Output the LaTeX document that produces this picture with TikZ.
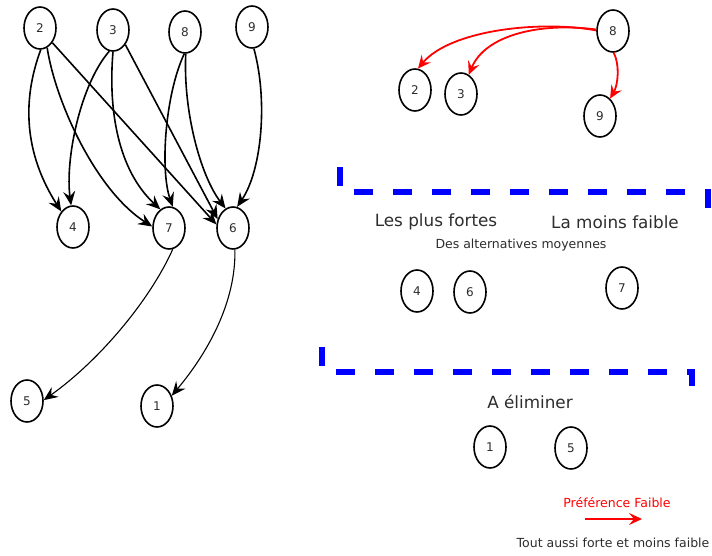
\documentclass[tikz,border=0pt]{standalone}
\usepackage{fontspec}
\setmainfont{DejaVu Sans}
\usetikzlibrary{shapes.geometric,arrows.meta}
\definecolor{txtgray}{RGB}{45,45,45}

\begin{document}
\begin{tikzpicture}[x=1pt,y=-1pt,
  vertex/.style={draw=black,line width=1.6pt,ellipse,minimum width=32pt,minimum height=42pt,inner sep=0pt,text=txtgray,font=\fontsize{12}{14}\selectfont},
  pref/.style={line width=1.6pt,-{Stealth[length=14pt,width=12pt,inset=5pt]}},
  weak/.style={red,line width=1.8pt,-{Stealth[length=13pt,width=12pt,inset=5pt]}},
  bound/.style={blue,line width=6pt,dash pattern=on 19pt off 20pt},
  bigtxt/.style={text=txtgray,font=\fontsize{16.8}{19}\selectfont},
  smalltxt/.style={text=txtgray,font=\fontsize{12.5}{14}\selectfont}]
\useasboundingbox[fill=white] (0,0) rectangle (712,556);
% Drawing nodes
% Left: the graph
\node[vertex] (l2) at (40,28) {2};
\node[vertex] (l3) at (113,30) {3};
\node[vertex] (l8) at (185,32) {8};
\node[vertex] (l9) at (252,27) {9};
\node[vertex] (l4) at (73,227) {4};
\node[vertex] (l7) at (169,228) {7};
\node[vertex] (l6) at (233,228) {6};
\node[vertex] (l5) at (27,401) {5};
\node[vertex] (l1) at (157,406) {1};
% Right: weak preferences
\node[vertex] (r8) at (613,31) {8};
\node[vertex] (r2) at (415,90) {2};
\node[vertex] (r3) at (461,94) {3};
\node[vertex] (r9) at (600,116) {9};
% Right: classes
\node[bigtxt] (fortes) at (436,222) {Les plus fortes};
\node[bigtxt] (faible) at (615,222) {La moins faible};
\node[smalltxt] (moyennes) at (521,245) {Des alternatives moyennes};
\node[vertex] (m4) at (417,291) {4};
\node[vertex] (m6) at (470,292) {6};
\node[vertex] (m7) at (622,288) {7};
\node[bigtxt] (eliminer) at (530,402) {A éliminer};
\node[vertex] (e1) at (490,447) {1};
\node[vertex] (e5) at (571,448) {5};
% Done with nodes; drawing edges
\draw[pref] (l2.-88) .. controls (22,100) and (24,153) .. (l4.127);
\draw[pref] (l2.-70) .. controls (55,100) and (95,190) .. (l7.175);
\draw[pref] (l2.-50) -- (l6.168);
\draw[pref] (l3.-100) .. controls (80,85) and (65,160) .. (l4.95);
\draw[pref] (l3.-90) .. controls (108,110) and (118,170) .. (l7.115);
\draw[pref] (l3.-50) -- (l6.150);
\draw[pref] (l8.-92) .. controls (165,95) and (160,170) .. (l7.80);
\draw[pref] (l8.-88) .. controls (183,110) and (200,175) .. (l6.111);
\draw[pref] (l9.-85) .. controls (268,100) and (262,170) .. (l6.79);
\draw[pref,line width=1.1pt] (l7.-80) .. controls (150,300) and (100,360) .. (l5.3);
\draw[pref,line width=1.1pt] (l6.-85) .. controls (236,300) and (210,350) .. (l1.35);
% Red ones
\draw[weak] (r8.178) .. controls (540,20) and (450,30) .. (r2.82);
\draw[weak] (r8.175) .. controls (540,22) and (485,35) .. (r3.68);
\draw[weak] (r8.-88) .. controls (620,65) and (618,85) .. (r9.60);
% Done with edges; drawing boundaries
\draw[bound] (340,167) -- (340,192) -- (708,192) -- (708,210);
\draw[bound] (322,347) -- (322,372) -- (692,372) -- (692,392);
% Legend
\node[text=red,font=\fontsize{12.5}{14}\selectfont] (legweak) at (617,503) {Préférence Faible};
\coordinate (lgA) at (585,519);
\coordinate (lgB) at (642,519);
\draw[weak] (lgA) -- (lgB);
\node[text=txtgray,font=\fontsize{12.5}{14}\selectfont] (legstrong) at (613,543) {Tout aussi forte et moins faible};
% Done with legend
\end{tikzpicture}
\end{document}
